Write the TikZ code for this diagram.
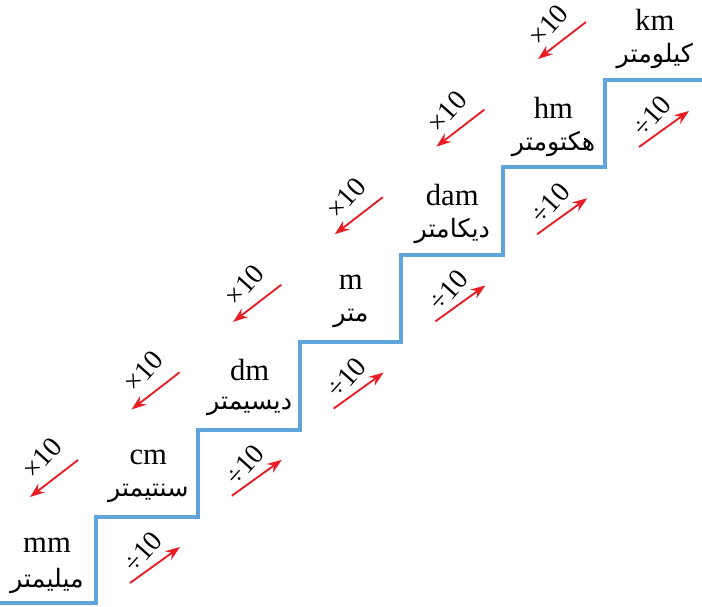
\documentclass[tikz,border=0pt]{standalone}
\usepackage{fontspec}
\setmainfont{Liberation Serif}
\newfontfamily\arabicfont[Script=Arabic]{DejaVu Sans}
\TeXXeTstate=1
\usetikzlibrary{arrows.meta}
\definecolor{stairblue}{RGB}{95,165,220}
\definecolor{arrred}{RGB}{232,30,36}
\tikzset{
  unitlbl/.style={font=\fontsize{23}{26}\selectfont, inner sep=0pt},
  faname/.style={font=\arabicfont\fontsize{19}{22}\selectfont, inner sep=0pt},
  arr/.style={draw=arrred, line width=1.4pt, -{Stealth[length=11pt,width=8pt]}},
  oplbl/.style={font=\fontsize{21}{24}\selectfont, inner sep=0pt, rotate=48},
}
\begin{document}
\begin{tikzpicture}[x=0.75pt,y=-0.75pt]
\useasboundingbox (0,0) rectangle (702,606);
% staircase
\coordinate (s0) at (0,603);
\draw[stairblue, line width=2.3pt] (s0) -- (96,603) -- (96,517) -- (198,517) -- (198,430) -- (300,430) -- (300,342) -- (401,342) -- (401,255) -- (503,255) -- (503,167) -- (605,167) -- (605,80) -- (702,80);
% unit names
\foreach \i/\ab/\fa in {0/mm/میلیمتر,1/cm/سنتیمتر,2/dm/دیسیمتر,3/m/متر,4/dam/دیکامتر,5/hm/هکتومتر,6/km/کیلومتر}{
  \node[unitlbl] (u\i) at ({47+101.3*\i},{545-87.5*\i}) {\ab};
  \node[faname] (f\i) at ({47+101.3*\i},{581-87.5*\i}) {\beginR\fa\endR};
}
% x10 arrows
\foreach \i in {0,...,5}{
  \coordinate (xa\i) at ({78+101.6*\i},{460-87.6*\i});
  \coordinate (xb\i) at ({30+101.6*\i},{497-87.6*\i});
  \draw[arr] (xa\i) -- (xb\i);
  \node[oplbl] (xl\i) at ({42+101.3*\i},{458-86.6*\i}) {×10};
}
% div10 arrows
\foreach \i in {0,...,5}{
  \coordinate (da\i) at ({130+101.8*\i},{583-87.2*\i});
  \coordinate (db\i) at ({180+101.8*\i},{547-87.2*\i});
  \draw[arr] (da\i) -- (db\i);
  \node[oplbl] (dl\i) at ({143+101.8*\i},{552-87.2*\i}) {÷10};
}
\end{tikzpicture}
\end{document}
